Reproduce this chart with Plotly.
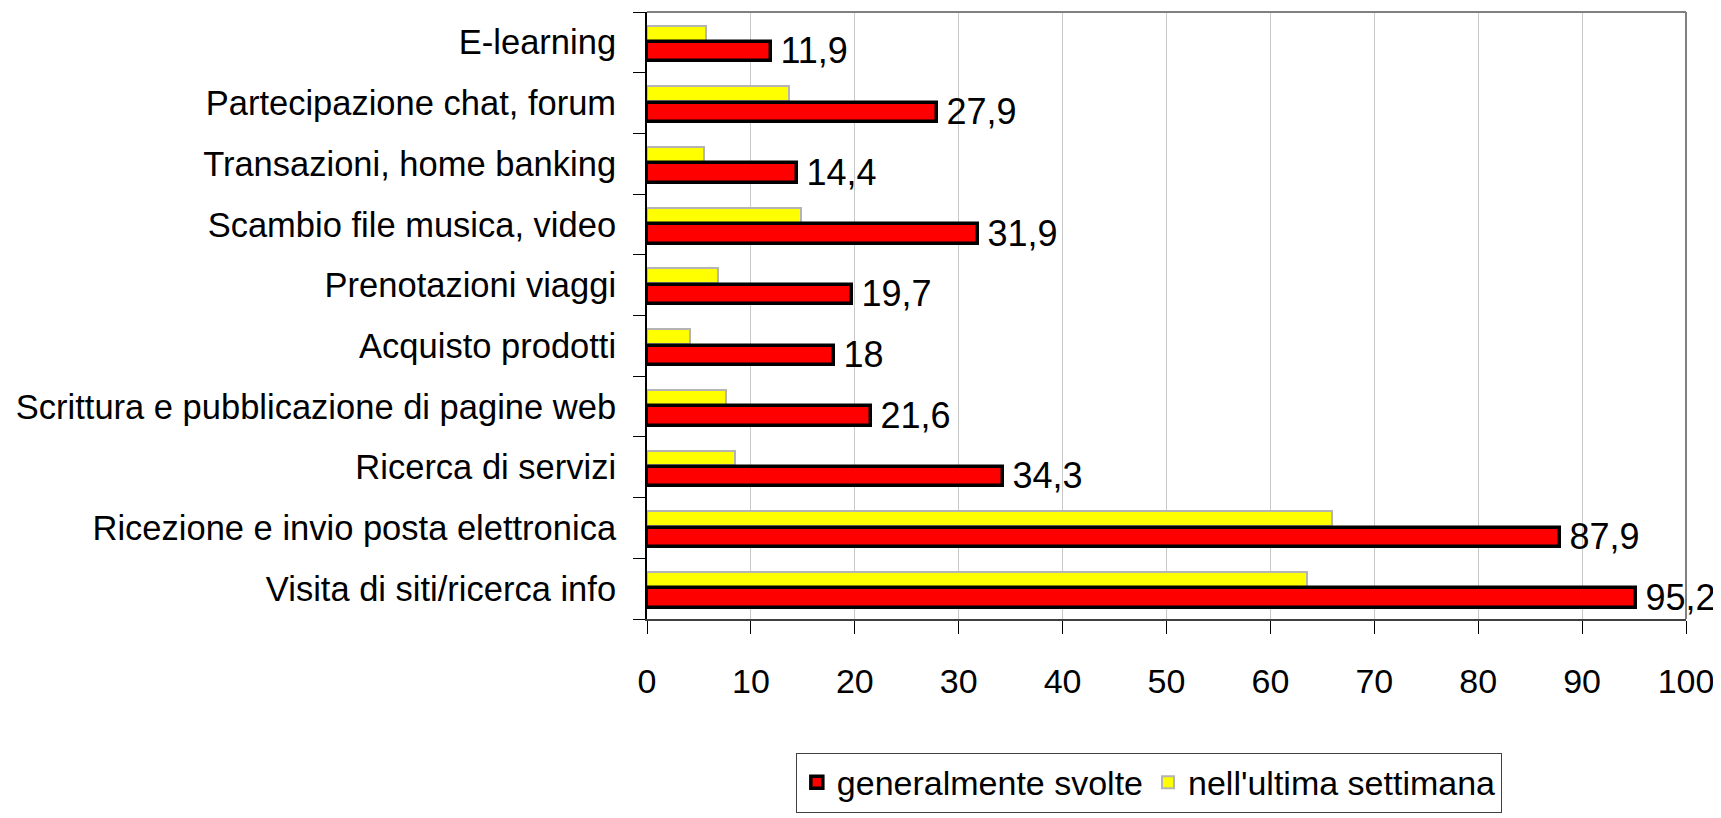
import plotly.graph_objects as go

# categories listed bottom -> top
attivita = [
    "Visita di siti/ricerca info",
    "Ricezione e invio posta elettronica",
    "Ricerca di servizi",
    "Scrittura e pubblicazione di pagine web",
    "Acquisto prodotti",
    "Prenotazioni viaggi",
    "Scambio file musica, video",
    "Transazioni, home banking",
    "Partecipazione chat, forum",
    "E-learning",
]
generalmente = [95.2, 87.9, 34.3, 21.6, 18, 19.7, 31.9, 14.4, 27.9, 11.9]
ultima_settimana = [63.5, 65.9, 8.5, 7.6, 4.1, 6.8, 14.8, 5.5, 13.7, 5.7]
x_ticks = [0, 10, 20, 30, 40, 50, 60, 70, 80, 90, 100]

FONT = "Liberation Sans, Arial, sans-serif"

fig = go.Figure()

fig.add_trace(go.Bar(
    y=attivita, x=ultima_settimana, orientation="h",
    name="nell'ultima settimana",
    marker=dict(color="#ffff00", line=dict(color="#b4b4b4", width=2)),
    width=0.245, offset=0.03, legendrank=2,
))
fig.add_trace(go.Bar(
    y=attivita, x=generalmente, orientation="h",
    name="generalmente svolte",
    marker=dict(color="#ff0000", line=dict(color="#000000", width=3.5)),
    width=0.32, offset=-0.315, legendrank=1,
    texttemplate="\u2009%{x}", textposition="outside", constraintext="none",
    textfont=dict(size=36, color="black", family=FONT),
    cliponaxis=False,
))

# page body adds an 8px margin, so the figure is 8px smaller than the window
fig.update_layout(
    barmode="overlay",
    separators=", ",
    width=1713, height=810,
    margin=dict(l=639, r=35, t=4, b=199),
    plot_bgcolor="white", paper_bgcolor="white",
    font=dict(family=FONT, size=34, color="black"),
    showlegend=True,
    legend=dict(
        orientation="h", x=0.483, xanchor="center", y=-0.22, yanchor="top",
        bordercolor="#404040", borderwidth=1,
        font=dict(size=34, family=FONT), traceorder="normal",
    ),
    bargap=0,
)

fig.update_xaxes(
    range=[0, 100], tickvals=x_ticks, ticks="outside", ticklen=13,
    tickcolor="black", showline=True, linecolor="#404040", linewidth=2,
    showgrid=True, gridcolor="#c8c8c8", gridwidth=1,
    tickfont=dict(size=34), ticklabelstandoff=18, zeroline=False,
)
fig.update_yaxes(
    type="category", categoryorder="array", categoryarray=attivita,
    ticks="outside", tickson="boundaries", ticklen=12, tickcolor="black",
    showline=True, linecolor="black", linewidth=2, showgrid=False,
    tickfont=dict(size=34.5), ticklabelstandoff=22, range=[-0.5, 9.5],
)

# grey frame on top and right of plot area
fig.add_shape(type="line", xref="paper", yref="paper", x0=0, x1=1, y0=1, y1=1,
              line=dict(color="#808080", width=2))
fig.add_shape(type="line", xref="paper", yref="paper", x0=1, x1=1, y0=0, y1=1,
              line=dict(color="#808080", width=2))

fig.write_html("out.html")
